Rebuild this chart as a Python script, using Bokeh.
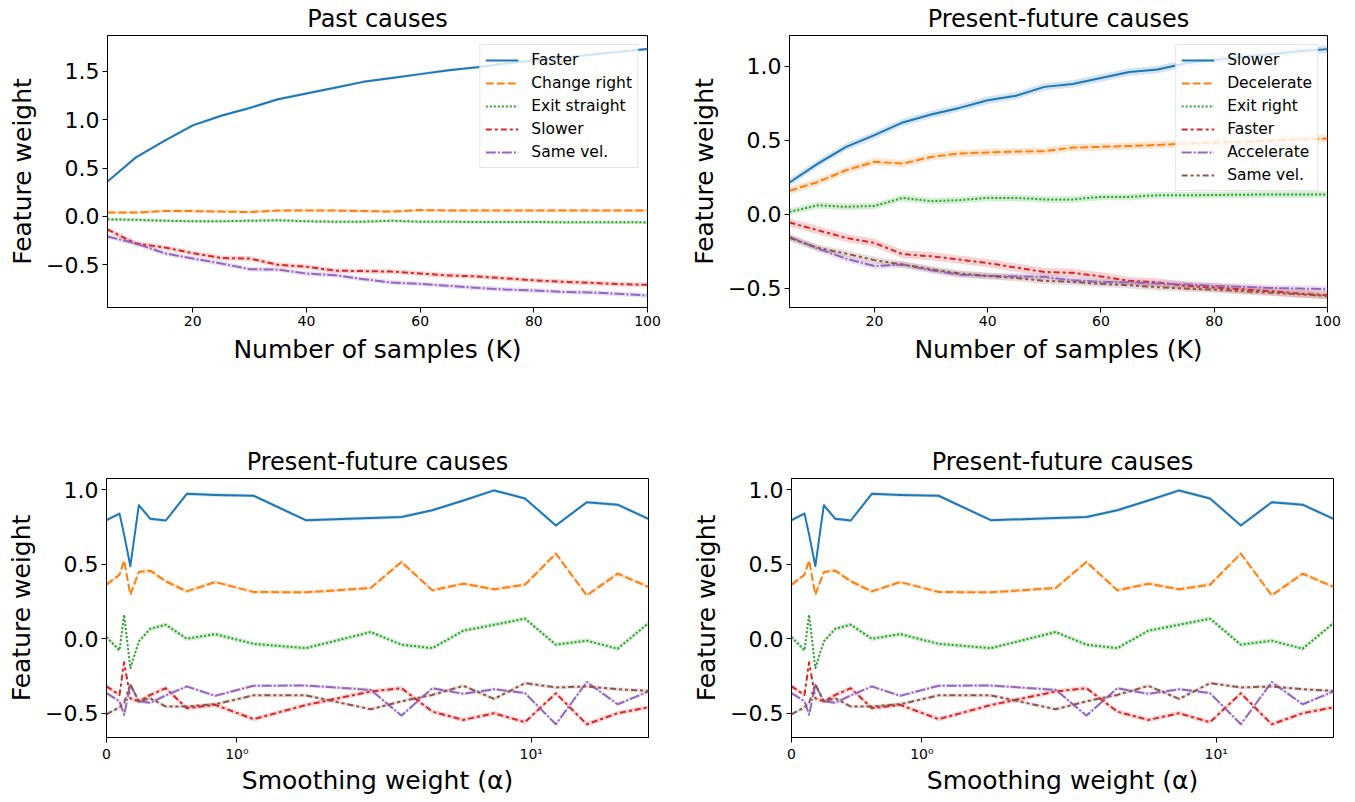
import numpy as np
from bokeh.plotting import figure
from bokeh.layouts import column, row
from bokeh.models import FixedTicker, CustomJSTickFormatter, Range1d
from bokeh.embed import file_html
from bokeh.resources import INLINE

# ---------------- data ----------------
K = [5, 10, 15, 20, 25, 30, 35, 40, 45, 50, 55, 60, 65, 70, 75, 80, 85, 90, 95, 100]

past_labels = ["Faster", "Change right", "Exit straight", "Slower", "Same vel."]
past_faster = [0.36, 0.61, 0.78, 0.94, 1.04, 1.12, 1.21, 1.27, 1.33, 1.39,
               1.43, 1.47, 1.51, 1.54, 1.58, 1.61, 1.64, 1.67, 1.70, 1.73]
past_change_right = [0.04, 0.04, 0.055, 0.055, 0.05, 0.045, 0.06, 0.06, 0.06, 0.055,
                     0.05, 0.065, 0.062, 0.06, 0.06, 0.062, 0.06, 0.06, 0.06, 0.062]
past_exit_straight = [-0.03, -0.035, -0.045, -0.05, -0.05, -0.045, -0.04, -0.05, -0.055, -0.055,
                      -0.045, -0.055, -0.055, -0.058, -0.058, -0.058, -0.06, -0.06, -0.06, -0.062]
past_slower = [-0.135, -0.28, -0.32, -0.38, -0.43, -0.435, -0.50, -0.52, -0.56, -0.565,
               -0.57, -0.59, -0.61, -0.62, -0.64, -0.66, -0.675, -0.686, -0.70, -0.707]
past_same_vel = [-0.207, -0.28, -0.38, -0.435, -0.486, -0.545, -0.55, -0.59, -0.607, -0.648,
                 -0.683, -0.697, -0.717, -0.738, -0.755, -0.765, -0.78, -0.786, -0.80, -0.817]

pf_labels = ["Slower", "Decelerate", "Exit right", "Faster", "Accelerate", "Same vel."]
pf_slower = [0.214, 0.342, 0.455, 0.534, 0.62, 0.673, 0.718, 0.77, 0.80, 0.86,
             0.88, 0.92, 0.96, 0.977, 1.02, 1.04, 1.063, 1.08, 1.10, 1.115]
pf_decelerate = [0.158, 0.218, 0.297, 0.354, 0.342, 0.387, 0.41, 0.417, 0.423, 0.426,
                 0.45, 0.455, 0.46, 0.468, 0.477, 0.484, 0.49, 0.497, 0.505, 0.511]
pf_exit_right = [0.016, 0.06, 0.05, 0.056, 0.11, 0.088, 0.095, 0.11, 0.11, 0.10,
                 0.10, 0.117, 0.117, 0.128, 0.128, 0.13, 0.132, 0.133, 0.133, 0.133]
pf_faster = [-0.056, -0.108, -0.16, -0.194, -0.27, -0.284, -0.306, -0.33, -0.36, -0.39,
             -0.396, -0.42, -0.45, -0.46, -0.484, -0.495, -0.507, -0.52, -0.536, -0.547]
pf_accelerate = [-0.153, -0.232, -0.30, -0.35, -0.34, -0.378, -0.408, -0.417, -0.419, -0.423,
                 -0.446, -0.457, -0.46, -0.468, -0.473, -0.484, -0.49, -0.498, -0.502, -0.507]
pf_same_vel = [-0.16, -0.227, -0.266, -0.31, -0.34, -0.372, -0.40, -0.417, -0.43, -0.45,
               -0.457, -0.47, -0.48, -0.493, -0.502, -0.509, -0.52, -0.53, -0.54, -0.552]

alpha = [0, 0.1, 0.135, 0.183, 0.248, 0.336, 0.455, 0.616, 0.834, 1.129, 1.529,
         2.07, 2.8, 3.79, 5.14, 6.95, 9.41, 12.74, 17.25, 23.36, 31.62]
sm_slower = [0.796, 0.84, 0.70, 0.487, 0.897, 0.805, 0.794, 0.973, 0.966, 0.96, 0.796,
             0.81, 0.818, 0.863, 0.928, 0.996, 0.942, 0.76, 0.917, 0.90, 0.805]
sm_decelerate = [0.363, 0.43, 0.525, 0.296, 0.448, 0.457, 0.386, 0.318, 0.381, 0.314, 0.312,
                 0.341, 0.516, 0.325, 0.37, 0.332, 0.363, 0.572, 0.291, 0.437, 0.348]
sm_exit_right = [0.011, -0.078, 0.161, -0.197, -0.018, 0.067, 0.094, 0.0, 0.031, -0.034, -0.063,
                 0.045, -0.04, -0.063, 0.054, 0.094, 0.135, -0.04, -0.013, -0.067, 0.105]
sm_faster = [-0.32, -0.377, -0.157, -0.40, -0.42, -0.377, -0.332, -0.466, -0.444, -0.54, -0.445,
             -0.354, -0.332, -0.489, -0.545, -0.50, -0.56, -0.366, -0.574, -0.50, -0.46]
sm_accelerate = [-0.365, -0.42, -0.511, -0.31, -0.42, -0.43, -0.38, -0.32, -0.383, -0.316, -0.314,
                 -0.343, -0.516, -0.332, -0.37, -0.339, -0.365, -0.574, -0.29, -0.44, -0.354]
sm_same_vel = [-0.507, -0.46, -0.43, -0.305, -0.42, -0.40, -0.455, -0.455, -0.44, -0.38, -0.38,
               -0.473, -0.42, -0.377, -0.316, -0.404, -0.298, -0.327, -0.32, -0.339, -0.35]

k_ticks = [20, 40, 60, 80, 100]
alpha_ticks = [0, 1, 10]
alpha_tick_labels = ["0", "10\u2070", "10\u00b9"]

# ---------------- styles ----------------
COLORS = ["#1f77b4", "#ff7f0e", "#2ca02c", "#d62728", "#9467bd", "#8c564b"]
DASHES = ["solid", "8 3", "2 2", "6 3 3 3", "10 2 2 2", "6 3 3 3 3 3"]
FONT = "DejaVu Sans"


def symlog(v, linthresh=2.0, linscale=1.0, base=10.0):
    v = np.asarray(v, dtype=float)
    adj = linscale / (1.0 - 1.0 / base)
    a = np.abs(v)
    safe = np.maximum(a, 1e-12)
    return np.where(a <= linthresh, v * adj,
                    np.sign(v) * linthresh * (adj + np.log(safe / linthresh) / np.log(base)))


def make_fig(title, x_range, y_range, fw, fh, bl, br, bt, bb, xlabel, xlab_standoff):
    p = figure(frame_width=fw, frame_height=fh, x_range=x_range, y_range=y_range,
               output_backend="svg", toolbar_location=None,
               min_border_left=bl, min_border_right=br, min_border_top=bt, min_border_bottom=bb)
    p.title.text = title
    p.title.text_font = FONT
    p.title.text_font_size = "24px"
    p.title.text_font_style = "normal"
    p.title.text_color = "black"
    p.title.align = "center"
    p.title.standoff = 5
    p.xgrid.visible = False
    p.ygrid.visible = False
    p.outline_line_color = "black"
    p.outline_line_alpha = 1.0
    p.outline_line_width = 1
    for ax in (p.xaxis[0], p.yaxis[0]):
        ax.axis_label_text_font = FONT
        ax.axis_label_text_font_size = "25px"
        ax.axis_label_text_font_style = "normal"
        ax.axis_label_text_color = "black"
        ax.major_label_text_font = FONT
        ax.major_label_text_color = "black"
        ax.major_tick_in = 0
        ax.major_tick_out = 5
        ax.minor_tick_line_color = None
        ax.axis_line_color = "black"
        ax.major_tick_line_color = "black"
        ax.major_label_standoff = 3
        ax.axis_label_standoff = 6
    p.xaxis.axis_label = xlabel
    p.xaxis.axis_label_standoff = xlab_standoff
    p.yaxis.axis_label = "Feature weight"
    p.xaxis.major_label_text_font_size = "14px"
    p.yaxis.major_label_text_font_size = "22px"
    p.yaxis.ticker = FixedTicker(ticks=[-0.5, 0.0, 0.5, 1.0, 1.5])
    p.yaxis.formatter = CustomJSTickFormatter(code="return tick.toFixed(1).replace('-', '\\u2212');")
    return p


def add_series(p, x, ys, labels, bands):
    for i, y in enumerate(ys):
        y = np.asarray(y, dtype=float)
        p.varea(x=x, y1=y - bands[i], y2=y + bands[i], fill_color=COLORS[i], fill_alpha=0.2)
    for i, y in enumerate(ys):
        kw = dict(line_color=COLORS[i], line_width=2, line_dash=DASHES[i], line_join="round")
        if labels is not None:
            kw["legend_label"] = labels[i]
        p.line(x=x, y=y, **kw)


def style_legend(p):
    leg = p.legend[0]
    leg.location = "top_right"
    leg.margin = 9
    leg.padding = 5
    leg.spacing = 3
    leg.label_height = 20
    leg.glyph_height = 20
    leg.glyph_width = 33
    leg.label_standoff = 13
    leg.label_text_font = FONT
    leg.label_text_font_size = "15.5px"
    leg.label_text_color = "black"
    leg.border_line_color = "#cccccc"
    leg.border_line_width = 1
    leg.background_fill_alpha = 0.8


# Top-left: Past causes
p1 = make_fig("Past causes", Range1d(5, 100), Range1d(-0.941, 1.869),
              540, 272, 107, 40, 35, 91, "Number of samples (K)", 6)
add_series(p1, K, [past_faster, past_change_right, past_exit_straight, past_slower, past_same_vel],
           past_labels, [0.015, 0.018, 0.018, 0.025, 0.025])
p1.xaxis.ticker = FixedTicker(ticks=k_ticks)
style_legend(p1)

# Top-right: Present-future causes vs K
p2 = make_fig("Present-future causes", Range1d(5, 100), Range1d(-0.63, 1.207),
              538, 272, 99, 26, 35, 91, "Number of samples (K)", 6)
add_series(p2, K, [pf_slower, pf_decelerate, pf_exit_right, pf_faster, pf_accelerate, pf_same_vel],
           pf_labels, [0.025, 0.025, 0.022, 0.028, 0.022, 0.022])
p2.xaxis.ticker = FixedTicker(ticks=k_ticks)
style_legend(p2)

# Bottom: smoothing weight (symlog x axis, linthresh 2)
ax_pos = symlog(alpha)
tick_pos = [float(v) for v in symlog(alpha_ticks)]
sm_series = [sm_slower, sm_decelerate, sm_exit_right, sm_faster, sm_accelerate, sm_same_vel]
sm_bands = [0.012, 0.014, 0.016, 0.016, 0.012, 0.012]
label_js = "const labels = %s; return labels[index];" % str(alpha_tick_labels).replace("'", '"')

bottom = []
for bl, br in ((106, 39), (104, 18)):
    p = make_fig("Present-future causes", Range1d(0, float(ax_pos[-1])), Range1d(-0.663, 1.076),
                 542, 259, bl, br, 80, 56, "Smoothing weight (\u03b1)", 1)
    add_series(p, ax_pos, sm_series, None, sm_bands)
    p.xaxis.ticker = FixedTicker(ticks=tick_pos)
    p.xaxis.formatter = CustomJSTickFormatter(code=label_js)
    bottom.append(p)

layout = column(row(p1, p2), row(bottom[0], bottom[1]))

with open("out.html", "w", encoding="utf-8") as f:
    f.write(file_html(layout, INLINE))
